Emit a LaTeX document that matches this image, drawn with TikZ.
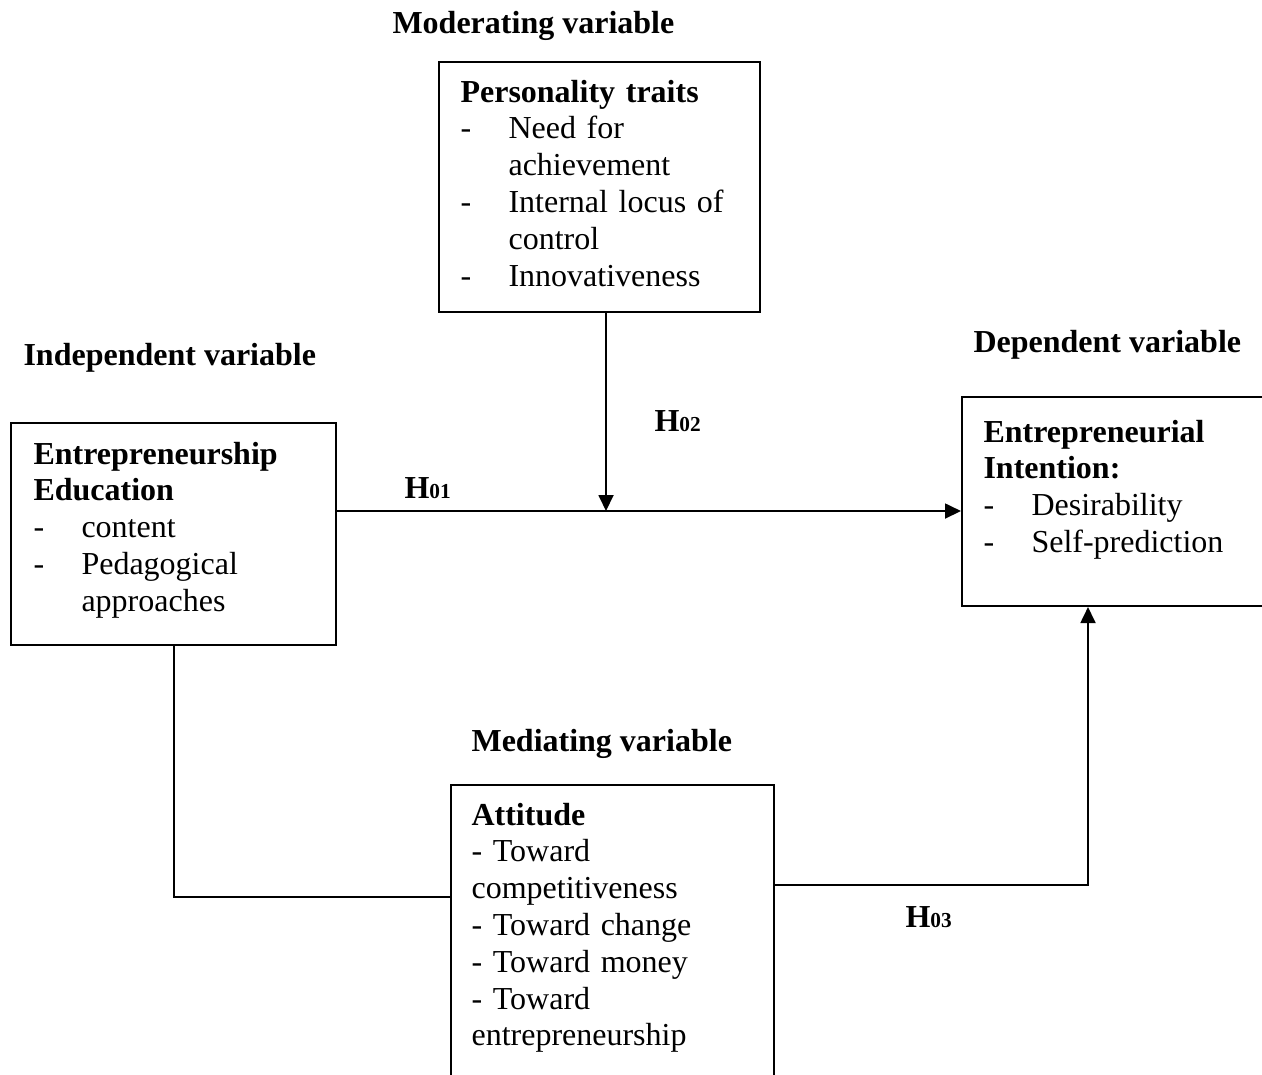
\documentclass[tikz,border=0pt]{standalone}
\usepackage{fontspec}
\setmainfont{Liberation Serif}
\usetikzlibrary{arrows.meta,fit}

\newcommand{\itemdash}[1]{\makebox[18pt][l]{-}#1}
\newcommand{\itemcont}[1]{\hspace*{18pt}#1}
\newcommand{\hyp}[1]{\textbf{H{\fontsize{8pt}{8pt}\selectfont #1}}}

\begin{document}
\begin{tikzpicture}[x=0.375pt, y=-0.375pt,
    font=\fontsize{12pt}{13.8pt}\selectfont,
    box/.style={draw, line width=0.75pt, inner sep=0pt},
    boxtext/.style={anchor=base west, inner sep=0pt, align=left, text width=110pt},
    heading/.style={anchor=base west, inner sep=0pt, font=\fontsize{12pt}{13.8pt}\selectfont\bfseries},
    hlabel/.style={anchor=base west, inner sep=0pt},
    arr/.style={line width=0.75pt, -{Triangle[length=6pt, width=5.6pt]}}]
        \useasboundingbox (0,0) rectangle (1262,1074);

        % headings above the boxes
        \node[heading] (modhead) at (392,33) {Moderating variable};
        \node[heading] (indhead) at (23,365) {Independent variable};
        \node[heading] (dephead) at (973,352) {Dependent variable};
        \node[heading] (medhead) at (471,751) {Mediating variable};

        % the four boxes
        \node[box, fit={(439,62) (760,312)}] (pers) {};
        \node[box, fit={(11,423) (336,645)}] (edu) {};
        \node[box, fit={(962,397) (1280,606)}] (intent) {};
        \node[box, fit={(451,785) (774,1090)}] (att) {};

        % box contents
        \node[boxtext] (perstext) at (460,102) {\textbf{Personality traits}\\
            \itemdash{Need for}\\ \itemcont{achievement}\\
            \itemdash{Internal locus of}\\ \itemcont{control}\\
            \itemdash{Innovativeness}};
        \node[boxtext] (edutext) at (33,464) {\textbf{Entrepreneurship}\\
            \textbf{Education}\\
            \itemdash{content}\\
            \itemdash{Pedagogical}\\ \itemcont{approaches}};
        \node[boxtext] (intenttext) at (983,442) {\textbf{Entrepreneurial}\\
            \textbf{Intention:}\\
            \itemdash{Desirability}\\
            \itemdash{Self-prediction}};
        \node[boxtext] (atttext) at (471,825) {\textbf{Attitude}\\
            - Toward\\ competitiveness\\
            - Toward change\\
            - Toward money\\
            - Toward\\ entrepreneurship};

        % hypothesis labels
        \node[hlabel] (h1) at (404,498) {\hyp{01}};
        \node[hlabel] (h2) at (654,431) {\hyp{02}};
        \node[hlabel] (h3) at (905,927) {\hyp{03}};

        % connectors
        \coordinate (join) at (606,511);
        \draw[arr] (edu.east |- join) -- (intent.west |- join);
        \draw[arr] (pers.south -| join) -- (join);
        \draw[line width=0.75pt] (edu.south) -- (edu.south |- 0,897) -- (att.west |- 0,897);
        \coordinate (rise) at (1088,885);
        \draw[arr] (att.east |- rise) -- (rise) -- (intent.south -| rise);
    \end{tikzpicture}
\end{document}
